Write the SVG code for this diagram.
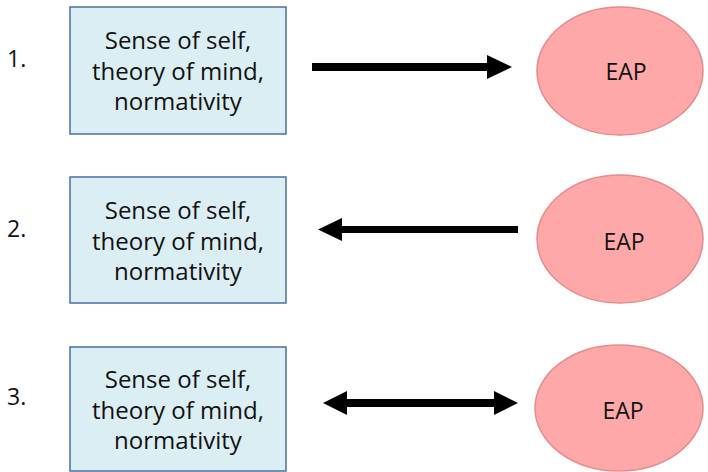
<svg xmlns="http://www.w3.org/2000/svg" width="708" height="472" viewBox="0 0 708 472">
<style>
.box{fill:#DBEEF4;stroke:#4A6FA0;stroke-width:1.5}
.ell{fill:#FFA8A9;stroke:#E88A8C;stroke-width:1.5}
text{font-family:"Open Sans","Noto Sans","Liberation Sans",sans-serif;font-size:24px;fill:#111}
.n{font-size:23px}
.e{font-size:23px}
.c{text-anchor:middle}
.arr{fill:#000}
</style>
<rect width="708" height="472" fill="#fff"/>
<g id="label1"><text class="n" x="7" y="67">1.</text></g>
<g id="label2"><text class="n" x="7" y="237">2.</text></g>
<g id="label3"><text class="n" x="7" y="405">3.</text></g>
<g id="box1">
<rect class="box" x="70" y="7" width="216" height="127"/>
<text class="c" x="178" y="49">Sense of self,</text>
<text class="c" x="178" y="80">theory of mind,</text>
<text class="c" x="178" y="110">normativity</text>
</g>
<g id="box2">
<rect class="box" x="70" y="177" width="216" height="126"/>
<text class="c" x="178" y="219">Sense of self,</text>
<text class="c" x="178" y="250">theory of mind,</text>
<text class="c" x="178" y="280">normativity</text>
</g>
<g id="box3">
<rect class="box" x="70" y="347" width="216" height="124"/>
<text class="c" x="178" y="388">Sense of self,</text>
<text class="c" x="178" y="419">theory of mind,</text>
<text class="c" x="178" y="449">normativity</text>
</g>
<g id="eap1">
<ellipse class="ell" cx="620" cy="71" rx="83" ry="64"/>
<text class="c e" x="626" y="80">EAP</text>
</g>
<g id="eap2">
<ellipse class="ell" cx="620" cy="239" rx="83" ry="64"/>
<text class="c e" x="624" y="250">EAP</text>
</g>
<g id="eap3">
<ellipse class="ell" cx="619" cy="408" rx="84" ry="63"/>
<text class="c e" x="623" y="419">EAP</text>
</g>
<g id="connectors">
<path class="arr" d="M312,63 H487 V55 L512,67 L487,79 V71 H312 Z"/>
<path class="arr" d="M518,226 H342 V218 L318,229.5 L342,241 V233 H518 Z"/>
<path class="arr" d="M347,399 H494 V391 L518,403 L494,415 V407 H347 V415 L323,403 L347,391 Z"/>
</g>
</svg>
